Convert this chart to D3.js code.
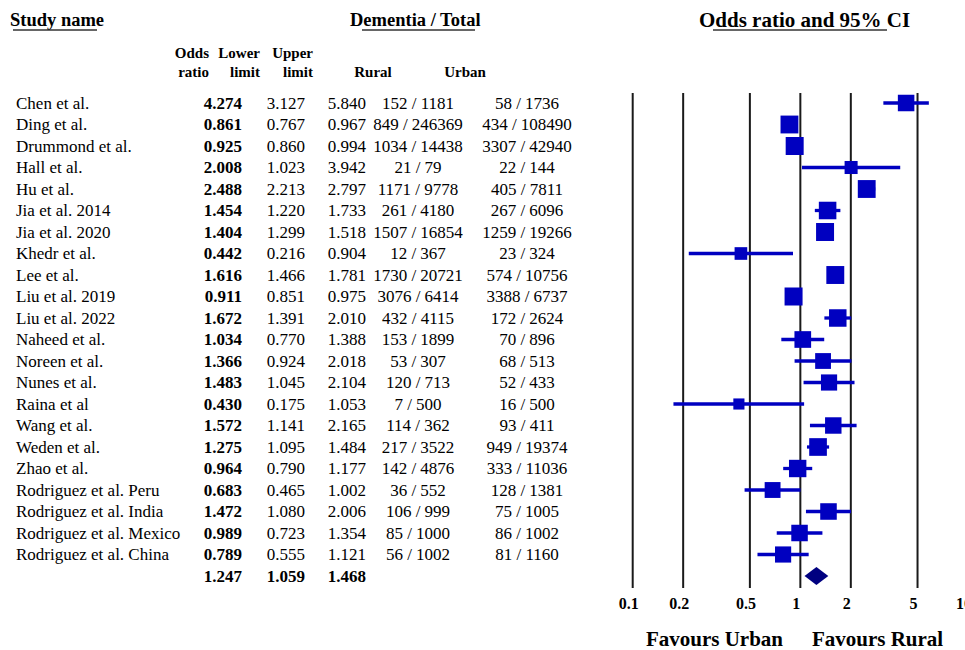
<!DOCTYPE html>
<html>
<head>
<meta charset="utf-8">
<script src="https://cdn.jsdelivr.net/npm/d3@7"></script>
<style>
  body { margin: 0; background: #fff; }
  text { font-family: "Liberation Serif", "Times New Roman", serif; fill: #000; }
</style>
</head>
<body>
<div id="chart"></div>
<script>
////////////////////////////////////////////////////////////////
// Data

const studies = ["Chen et al.", "Ding et al.", "Drummond et al.", "Hall et al.", "Hu et al.",
  "Jia et al. 2014", "Jia et al. 2020", "Khedr et al.", "Lee et al.", "Liu et al. 2019",
  "Liu et al. 2022", "Naheed et al.", "Noreen et al.", "Nunes et al.", "Raina et al",
  "Wang et al.", "Weden et al.", "Zhao et al.", "Rodriguez et al. Peru",
  "Rodriguez et al. India", "Rodriguez et al. Mexico", "Rodriguez et al. China"];
const oddsRatio = [4.274, 0.861, 0.925, 2.008, 2.488, 1.454, 1.404, 0.442, 1.616, 0.911,
  1.672, 1.034, 1.366, 1.483, 0.430, 1.572, 1.275, 0.964, 0.683, 1.472, 0.989, 0.789];
const lowerLimit = [3.127, 0.767, 0.860, 1.023, 2.213, 1.220, 1.299, 0.216, 1.466, 0.851,
  1.391, 0.770, 0.924, 1.045, 0.175, 1.141, 1.095, 0.790, 0.465, 1.080, 0.723, 0.555];
const upperLimit = [5.840, 0.967, 0.994, 3.942, 2.797, 1.733, 1.518, 0.904, 1.781, 0.975,
  2.010, 1.388, 2.018, 2.104, 1.053, 2.165, 1.484, 1.177, 1.002, 2.006, 1.354, 1.121];
const rural = ["152 / 1181", "849 / 246369", "1034 / 14438", "21 / 79", "1171 / 9778",
  "261 / 4180", "1507 / 16854", "12 / 367", "1730 / 20721", "3076 / 6414", "432 / 4115",
  "153 / 1899", "53 / 307", "120 / 713", "7 / 500", "114 / 362", "217 / 3522", "142 / 4876",
  "36 / 552", "106 / 999", "85 / 1000", "56 / 1002"];
const urban = ["58 / 1736", "434 / 108490", "3307 / 42940", "22 / 144", "405 / 7811",
  "267 / 6096", "1259 / 19266", "23 / 324", "574 / 10756", "3388 / 6737", "172 / 2624",
  "70 / 896", "68 / 513", "52 / 433", "16 / 500", "93 / 411", "949 / 19374", "333 / 11036",
  "128 / 1381", "75 / 1005", "86 / 1002", "81 / 1160"];
const summary = { or: 1.247, lower: 1.059, upper: 1.468 };
const tickValues = [0.1, 0.2, 0.5, 1, 2, 5, 10];

////////////////////////////////////////////////////////////////
// Setup

const svg = d3.select("#chart").append("svg")
  .attr("width", 965)
  .attr("height", 650);

svg.append("rect")
  .attr("width", 965).attr("height", 650).attr("fill", "#fff");

const x = d3.scaleLog().domain([0.1, 10]).range([632.7, 968]);
const y = d3.scalePoint().domain([...studies, "Summary"]).range([103, 576]);

const rows = studies.map((s, i) => ({
  name: s, or: oddsRatio[i], lo: lowerLimit[i], hi: upperLimit[i],
  rural: rural[i], urban: urban[i]
}));

// random effects weights (DerSimonian-Laird) for box sizes
rows.forEach(d => {
  d.lnor = Math.log(d.or);
  d.se = (Math.log(d.hi) - Math.log(d.lo)) / (2 * 1.96);
  d.wf = 1 / (d.se * d.se);
});
const sw = d3.sum(rows, d => d.wf);
const sw2 = d3.sum(rows, d => d.wf * d.wf);
const mFixed = d3.sum(rows, d => d.wf * d.lnor) / sw;
const Q = d3.sum(rows, d => d.wf * (d.lnor - mFixed) ** 2);
const tau2 = Math.max(0, (Q - (rows.length - 1)) / (sw - sw2 / sw));
rows.forEach(d => { d.w = 1 / (d.se * d.se + tau2); });
const wMax = d3.max(rows, d => d.w);
const boxSize = d3.scaleSqrt().domain([0, wMax]).range([0, 18]);

////////////////////////////////////////////////////////////////
// Headers

function header(txt, xp, yp, size, anchor) {
  return svg.append("text")
    .attr("x", xp).attr("y", yp)
    .attr("font-size", size)
    .attr("font-weight", "bold")
    .attr("text-anchor", anchor || "start")
    .attr("dominant-baseline", "central")
    .text(txt);
}

header("Study name", 10, 20, 18.5);
header("Dementia / Total", 350, 20, 18.5);
header("Odds ratio and 95% CI", 699, 20, 21);

// underlines (drawn like the original, not full width)
[[13, 97], [362, 475], [713, 887]].forEach(u => {
  svg.append("line")
    .attr("x1", u[0]).attr("x2", u[1])
    .attr("y1", 30).attr("y2", 30)
    .attr("stroke", "#333").attr("stroke-width", 1.3);
});

header("Odds", 209, 53, 15, "end");
header("ratio", 209, 72, 15, "end");
header("Lower", 260, 53, 15, "end");
header("limit", 260, 72, 15, "end");
header("Upper", 313, 53, 15, "end");
header("limit", 313, 72, 15, "end");
header("Rural", 373, 72, 15, "middle");
header("Urban", 465, 72, 15, "middle");

////////////////////////////////////////////////////////////////
// Table

const table = svg.append("g");
const cols = [
  { key: "name", x: 16, anchor: "start", bold: false, fmt: d => d },
  { key: "or", x: 242, anchor: "end", bold: true, fmt: d3.format(".3f") },
  { key: "lo", x: 305, anchor: "end", bold: false, fmt: d3.format(".3f") },
  { key: "hi", x: 366, anchor: "end", bold: false, fmt: d3.format(".3f") },
  { key: "rural", x: 418, anchor: "middle", bold: false, fmt: d => d },
  { key: "urban", x: 527, anchor: "middle", bold: false, fmt: d => d }
];

cols.forEach(c => {
  table.selectAll(null)
    .data(rows)
    .enter()
    .append("text")
    .attr("x", c.x)
    .attr("y", d => y(d.name))
    .attr("font-size", 17)
    .attr("font-weight", c.bold ? "bold" : "normal")
    .attr("text-anchor", c.anchor)
    .attr("dominant-baseline", "central")
    .text(d => c.fmt(d[c.key]));
});

// summary row
[[summary.or, 242], [summary.lower, 305], [summary.upper, 366]].forEach(v => {
  table.append("text")
    .attr("x", v[1]).attr("y", y("Summary"))
    .attr("font-size", 17).attr("font-weight", "bold")
    .attr("text-anchor", "end")
    .attr("dominant-baseline", "central")
    .text(d3.format(".3f")(v[0]));
});

////////////////////////////////////////////////////////////////
// Forest plot

const plot = svg.append("g");

plot.selectAll(".grid")
  .data(tickValues)
  .enter()
  .append("line")
  .attr("class", "grid")
  .attr("x1", d => x(d)).attr("x2", d => x(d))
  .attr("y1", 93).attr("y2", 588)
  .attr("stroke", "#1a1a1a")
  .attr("stroke-width", 2);

plot.selectAll(".tick")
  .data(tickValues)
  .enter()
  .append("text")
  .attr("class", "tick")
  .attr("x", d => x(d) - 4)
  .attr("y", 603)
  .attr("font-size", 16)
  .attr("font-weight", "bold")
  .attr("text-anchor", "middle")
  .attr("dominant-baseline", "central")
  .text(d => String(d));

plot.selectAll(".ci")
  .data(rows)
  .enter()
  .append("line")
  .attr("class", "ci")
  .attr("x1", d => x(d.lo)).attr("x2", d => x(d.hi))
  .attr("y1", d => y(d.name)).attr("y2", d => y(d.name))
  .attr("stroke", "#0000c0")
  .attr("stroke-width", 3.3);

plot.selectAll(".box")
  .data(rows)
  .enter()
  .append("rect")
  .attr("class", "box")
  .attr("x", d => x(d.or) - boxSize(d.w) / 2)
  .attr("y", d => y(d.name) - boxSize(d.w) / 2)
  .attr("width", d => boxSize(d.w))
  .attr("height", d => boxSize(d.w))
  .attr("fill", "#0000c0");

const sy = y("Summary");
plot.append("path")
  .attr("d", d3.line()([
    [x(summary.lower), sy], [x(summary.or), sy - 9],
    [x(summary.upper), sy], [x(summary.or), sy + 9]
  ]) + "Z")
  .attr("fill", "#000080");

header("Favours Urban", 714.5, 639, 21, "middle");
header("Favours Rural", 877.5, 639, 21, "middle");
</script>
</body>
</html>
